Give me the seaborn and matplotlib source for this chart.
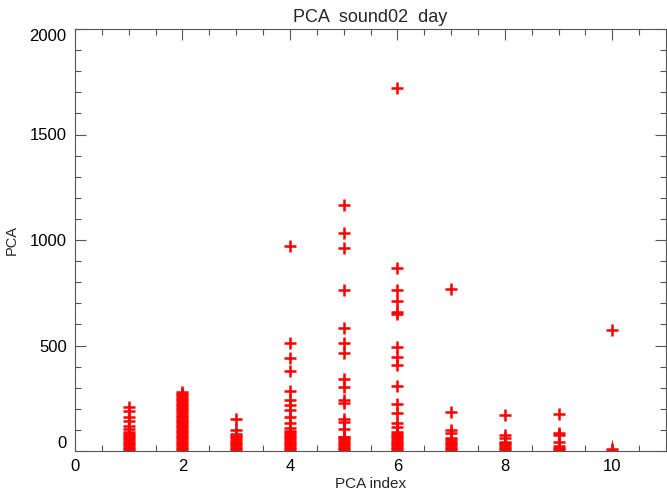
import numpy as np
import pandas as pd
import matplotlib
matplotlib.use("Agg")
import matplotlib.pyplot as plt
import seaborn as sns
from matplotlib.ticker import MultipleLocator

# PCA values, one list per PCA index
pca1 = [0, 8, 16, 24, 32, 40, 48, 56, 64, 72, 80, 88, 103, 118, 142, 163, 190, 207]
pca2 = [0, 8, 16, 24, 32, 40, 48, 56, 64, 72, 80, 88, 96, 104, 112, 120, 128, 136, 144,
        152, 160, 168, 176, 184, 192, 200, 208, 216, 224, 232, 240, 248, 256, 264, 272, 280]
pca3 = [0, 8, 16, 24, 32, 40, 48, 56, 64, 72, 80, 100, 150]
pca4 = [0, 8, 16, 24, 32, 40, 48, 56, 64, 72, 80, 88, 96, 110, 131, 162, 194, 218, 242,
        282, 380, 440, 510, 971]
pca5 = [0, 8, 16, 24, 32, 40, 48, 56, 64, 68, 103, 139, 150, 229, 242, 305, 340, 466,
        513, 581, 763, 961, 1035, 1166]
pca6 = [0, 8, 16, 24, 32, 40, 48, 56, 64, 72, 80, 91, 115, 131, 179, 223, 308, 408, 444,
        494, 649, 660, 712, 763, 866, 1719]
pca7 = [0, 8, 16, 24, 32, 40, 48, 56, 60, 84, 100, 186, 766]
pca8 = [0, 8, 16, 24, 32, 40, 44, 60, 76, 171]
pca9 = [0, 8, 16, 24, 44, 76, 87, 175]
pca10 = [0, 8, 573]

columns = [pca1, pca2, pca3, pca4, pca5, pca6, pca7, pca8, pca9, pca10]
index = []
value = []
for i, col in enumerate(columns):
    index += [i + 1] * len(col)
    value += col
df = pd.DataFrame({"PCA index": index, "PCA": value})

sns.set_theme(style="ticks")
plt.rcParams["font.family"] = ["Liberation Sans", "DejaVu Sans"]

fig = plt.figure(figsize=(6.67, 4.96), dpi=100)
ax = fig.add_axes([75 / 667, 45 / 496, (666 - 75) / 667, (451 - 29) / 496])

sns.scatterplot(data=df, x="PCA index", y="PCA", marker="+", color="red",
                s=85, linewidth=1.8, ax=ax, legend=False)

ax.set_xlim(0, 11)
ax.set_ylim(0, 2000)
ax.xaxis.set_major_locator(MultipleLocator(2))
ax.xaxis.set_minor_locator(MultipleLocator(0.5))
ax.yaxis.set_major_locator(MultipleLocator(500))
ax.yaxis.set_minor_locator(MultipleLocator(100))
ax.tick_params(which="both", direction="in", top=True, right=True,
               color="#555555", labelsize=12, labelcolor="black", pad=6)
ax.tick_params(which="major", length=8, width=0.8)
ax.tick_params(which="minor", length=4, width=0.8)
for sp in ax.spines.values():
    sp.set_color("#555555")
    sp.set_linewidth(0.8)

ax.set_title("PCA  sound02  day", fontsize=13, pad=5)
ax.set_xlabel("PCA index", fontsize=11, labelpad=2)
ax.set_ylabel("PCA", fontsize=10.5)
ax.yaxis.set_label_coords(-0.095, 0.5)

# keep the end labels inside the axis span, like the original
fig.canvas.draw()
for lab in ax.get_yticklabels():
    if lab.get_text() == "0":
        lab.set_va("bottom")
    elif lab.get_text() == "2000":
        lab.set_va("top")

fig.savefig("out.png", dpi=100)
